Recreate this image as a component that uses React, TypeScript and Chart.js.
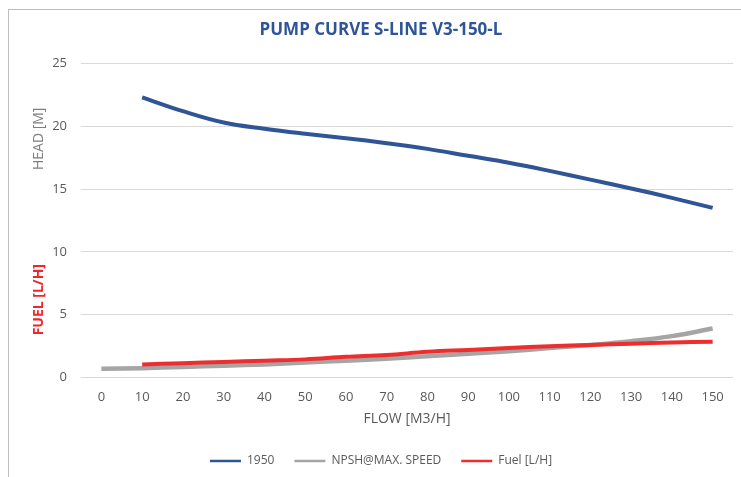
import React, { useEffect, useRef } from "react";
import { Chart, registerables } from "chart.js";

Chart.register(...registerables);

const flowLabels = ["0", "10", "20", "30", "40", "50", "60", "70", "80", "90", "100", "110", "120", "130", "140", "150"];
const head1950 = [null, 22.3, 21.2, 20.3, 19.8, 19.4, 19.05, 18.65, 18.2, 17.65, 17.1, 16.45, 15.75, 15.05, 14.3, 13.5];
const npsh = [0.7, 0.75, 0.85, 0.95, 1.05, 1.2, 1.35, 1.5, 1.7, 1.9, 2.1, 2.35, 2.6, 2.9, 3.3, 3.9];
const fuel = [null, 1.05, 1.15, 1.25, 1.35, 1.45, 1.65, 1.8, 2.05, 2.2, 2.35, 2.5, 2.6, 2.7, 2.8, 2.85];
const yTicks = [0, 5, 10, 15, 20, 25];

const FONT = "'Open Sans', 'Liberation Sans', sans-serif";
const BLUE = "#2F5597";
const GRAY = "#A5A5A5";
const RED = "#EE2E2E";
const TEXT = "#595959";

const sideTitles = {
  id: "sideTitles",
  afterDraw(chart: any) {
    const { ctx, chartArea, scales } = chart;
    const y = scales.y;
    const x0 = chartArea.left - 42;
    ctx.save();
    ctx.textAlign = "center";
    ctx.textBaseline = "middle";
    ctx.translate(x0, y.getPixelForValue(19));
    ctx.rotate(-Math.PI / 2);
    ctx.font = `14px ${FONT}`;
    ctx.fillStyle = "#7F7F7F";
    ctx.fillText("HEAD [M]", 0, 0);
    ctx.restore();
    ctx.save();
    ctx.textAlign = "center";
    ctx.textBaseline = "middle";
    ctx.translate(x0, y.getPixelForValue(6.2));
    ctx.rotate(-Math.PI / 2);
    ctx.font = `bold 14px ${FONT}`;
    ctx.fillStyle = "#F0262B";
    ctx.fillText("FUEL [L/H]", 0, 0);
    ctx.restore();
  },
};

export default function App() {
  const ref = useRef<HTMLCanvasElement>(null);
  useEffect(() => {
    if (!ref.current) return;
    const chart = new Chart(ref.current, {
      type: "line",
      data: {
        labels: flowLabels,
        datasets: [
          { label: "1950", data: head1950, borderColor: BLUE, backgroundColor: BLUE, borderWidth: 4, pointRadius: 0, tension: 0.4, order: 2 },
          { label: "NPSH@MAX. SPEED", data: npsh, borderColor: GRAY, backgroundColor: GRAY, borderWidth: 4.5, pointRadius: 0, tension: 0.4, order: 1 },
          { label: "Fuel [L/H]", data: fuel, borderColor: RED, backgroundColor: RED, borderWidth: 4, pointRadius: 0, tension: 0.4, order: 0 },
        ],
      },
      options: {
        animation: false,
        responsive: true,
        maintainAspectRatio: false,
        layout: { padding: { left: 20, right: 15, top: 8, bottom: 0 } },
        plugins: {
          title: {
            display: true,
            text: "PUMP CURVE S-LINE V3-150-L",
            color: BLUE,
            font: { family: FONT, size: 17, weight: "bold" },
            padding: { top: 2, bottom: 23 },
          },
          legend: {
            position: "bottom",
            labels: {
              color: TEXT,
              font: { family: FONT, size: 12 },
              boxWidth: 31,
              boxHeight: 2.5,
              padding: 20,
              sort: (a: any, b: any) => a.datasetIndex - b.datasetIndex,
              generateLabels: (c: any) => {
                const items = Chart.defaults.plugins.legend.labels.generateLabels(c);
                return items.map((it: any) => ({ ...it, lineWidth: 0 }));
              },
            },
          },
          tooltip: { enabled: false },
        },
        scales: {
          x: {
            offset: true,
            grid: { display: false, drawTicks: false },
            border: { display: false },
            ticks: { color: TEXT, font: { family: FONT, size: 13 }, padding: 12, maxRotation: 0, autoSkip: false },
            title: { display: true, text: "FLOW [M3/H]", color: TEXT, font: { family: FONT, size: 14 }, padding: { top: -7, bottom: 8 } },
          },
          y: {
            min: 0,
            max: 25,
            afterBuildTicks: (s: any) => { s.ticks = yTicks.map((v) => ({ value: v })); },
            afterFit: (s: any) => { s.width = 52; },
            grid: { color: "#D9D9D9", drawTicks: false },
            border: { display: false },
            ticks: { color: TEXT, font: { family: FONT, size: 13 }, padding: 14 },
          },
        },
      },
      plugins: [sideTitles],
    });
    return () => chart.destroy();
  }, []);
  return (
    <div style={{ position: "fixed", left: 0, top: 0, width: 741, height: 477, overflow: "hidden", background: "#fff" }}>
      <div style={{ position: "absolute", left: 8, top: 9, width: 740, height: 468, borderLeft: "1.5px solid #BFBFBF", borderTop: "1.5px solid #BFBFBF", boxSizing: "border-box" }}>
        <canvas ref={ref} />
      </div>
    </div>
  );
}
